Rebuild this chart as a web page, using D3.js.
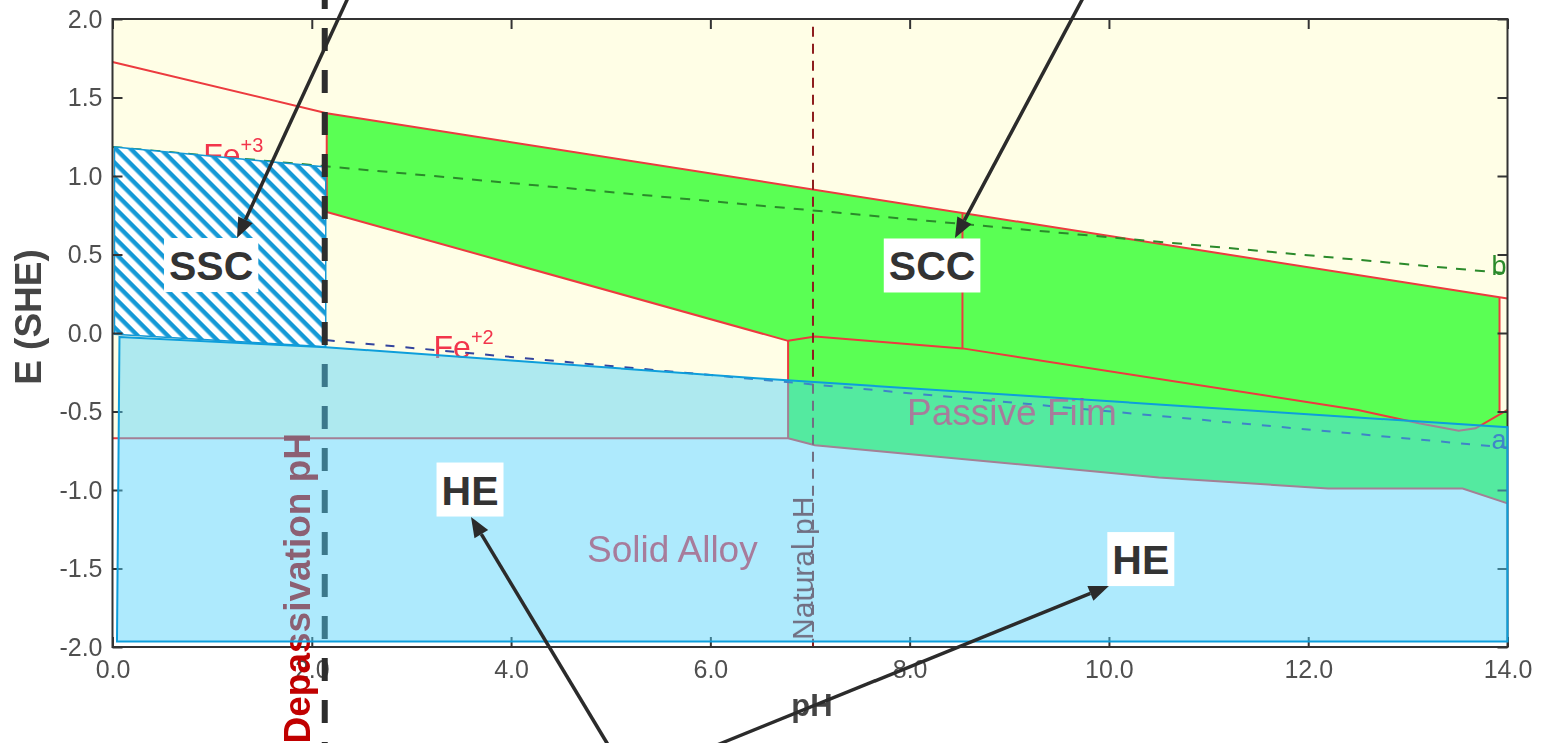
<!DOCTYPE html>
<html>
<head>
<meta charset="utf-8">
<script src="https://cdn.jsdelivr.net/npm/d3@7"></script>
<style>
  html, body { margin: 0; padding: 0; background: #ffffff; }
  svg { display: block; }
</style>
</head>
<body>
<svg id="chart" width="1541" height="743"></svg>
<script>
// ---- axis ticks ----
const phTicks = [0, 2, 4, 6, 8, 10, 12, 14];
const eTicks = [-2, -1.5, -1, -0.5, 0, 0.5, 1, 1.5, 2];

// ---- Pourbaix boundaries, [pH, E (V vs SHE)] ----
const upperBoundary = [[0, 1.726], [2.15, 1.40], [13.92, 0.228], [14, 0.22]];
const passiveLower = [[2.15, 0.771], [6.78, -0.05]];
const oxideBoundary = [[6.78, -0.05], [7.05, -0.023], [8.53, -0.098], [12.5, -0.49], [13.11, -0.575], [13.51, -0.622], [13.68, -0.607], [14, -0.49]];
const alloyBoundary = [[0, -0.67], [6.78, -0.67], [7.05, -0.715], [10.5, -0.92], [12.2, -0.99], [13.55, -0.99], [14, -1.085]];
const verticalBoundaries = [
  [[2.15, 0.771], [2.15, 1.40]],
  [[6.78, -0.67], [6.78, -0.05]],
  [[8.53, -0.098], [8.53, 0.76]],
  [[13.92, -0.51], [13.92, 0.228]]
];

// water stability lines
const waterLineB = [[0, 1.185], [14, 0.38]];
const waterLineA = [[2.14, -0.045], [14, -0.73]];

const naturalPH = 7.03;
const depassivationPH = 2.13;

// cracking zones
const sscZone = [[0.02, 1.185], [2.14, 1.057], [2.14, -0.087], [0.02, -0.008]];
const heZone = [[0.07, -0.025], [2.14, -0.09], [6.5, -0.29], [14, -0.60], [14, -1.965], [0.045, -1.965]];

// region labels
const regionLabels = [
  { text: "Solid Alloy", ph: 4.762, e: -1.459 },
  { text: "Passive Film", ph: 7.974, e: -0.586 }
];
const ionLabels = [
  { ion: "Fe", charge: "+3", ph: 0.911, e: 1.064 },
  { ion: "Fe", charge: "+2", ph: 3.222, e: -0.159 }
];
const lineLabels = [
  { text: "b", ph: 13.84, e: 0.369, color: "#2b8a2b" },
  { text: "a", ph: 13.84, e: -0.739, color: "#33449e" }
];

// mechanism call-outs: box centre and arrow [tail, head]
const callouts = [
  { text: "SSC", ph: 0.99, e: 0.433, arrow: [[2.423, 2.217], [1.25, 0.605]] },
  { text: "SCC", ph: 8.225, e: 0.43, arrow: [[9.81, 2.217], [8.455, 0.605]] },
  { text: "HE", ph: 3.588, e: -0.997, arrow: [[5.053, -2.707], [3.598, -1.172]] },
  { text: "HE", ph: 10.32, e: -1.44, arrow: [[5.745, -2.707], [10.0, -1.611]] }
];

// ---- drawing ----
const W = 1541, H = 743;
const svg = d3.select("#chart");
const x = d3.scaleLinear().domain([0, 14]).range([112.5, 1507.5]);
const y = d3.scaleLinear().domain([-2, 2]).range([647, 19]);
const line = d3.line().x(d => x(d[0])).y(d => y(d[1]));
const poly = pts => line(pts) + "Z";

const defs = svg.append("defs");
defs.append("clipPath").attr("id", "plotClip")
  .append("rect").attr("x", x(0)).attr("y", y(2))
  .attr("width", x(14) - x(0)).attr("height", y(-2) - y(2));
const hatch = defs.append("pattern").attr("id", "hatch")
  .attr("patternUnits", "userSpaceOnUse").attr("width", 10.6).attr("height", 10.6)
  .attr("patternTransform", "rotate(45)");
hatch.append("rect").attr("width", 10.6).attr("height", 10.6).attr("fill", "#ffffff");
hatch.append("rect").attr("width", 10.6).attr("height", 4.4).attr("fill", "#1499d6");
defs.append("filter").attr("id", "soft")
  .append("feGaussianBlur").attr("stdDeviation", 0.6);

const font = "'Liberation Sans', Arial, sans-serif";
const RED = "#ec3b3f";

// base diagram
const plot = svg.append("g").attr("clip-path", "url(#plotClip)");
plot.append("rect").attr("x", x(0)).attr("y", y(2))
  .attr("width", x(14) - x(0)).attr("height", y(-2) - y(2)).attr("fill", "#fffee6");

plot.append("path").attr("d", poly([...alloyBoundary, [14, -2], [0, -2]])).attr("fill", "#ffffff");

const passiveRegion = [
  upperBoundary[1], upperBoundary[2], [13.92, -0.51], [14, -0.49],
  ...alloyBoundary.filter(p => p[0] >= 6.78).reverse(),
  [6.78, -0.05], passiveLower[0]
];
plot.append("path").attr("d", poly(passiveRegion)).attr("fill", "#5aff54");

const redLines = [upperBoundary, passiveLower, oxideBoundary, alloyBoundary, ...verticalBoundaries];
plot.selectAll("path.bound").data(redLines).join("path").attr("class", "bound")
  .attr("d", line).attr("fill", "none").attr("stroke", RED).attr("stroke-width", 2);

plot.append("path").attr("d", line(waterLineB)).attr("fill", "none")
  .attr("stroke", "#2b8a2b").attr("stroke-width", 2).attr("stroke-dasharray", "10,9");
plot.append("path").attr("d", line(waterLineA)).attr("fill", "none")
  .attr("stroke", "#33449e").attr("stroke-width", 2).attr("stroke-dasharray", "9,11");
plot.append("path").attr("d", line([[naturalPH, 1.95], [naturalPH, -2]])).attr("fill", "none")
  .attr("stroke", "#8e1e1e").attr("stroke-width", 2).attr("stroke-dasharray", "10,7");

// labels of the base diagram
const labelG = plot.append("g").attr("font-family", font).attr("filter", "url(#soft)");
labelG.selectAll("text.region").data(regionLabels).join("text").attr("class", "region")
  .attr("x", d => x(d.ph)).attr("y", d => y(d.e))
  .attr("font-size", 37).attr("fill", "#f2344c").text(d => d.text);
ionLabels.forEach(d => {
  const t = labelG.append("text").attr("x", x(d.ph)).attr("y", y(d.e))
    .attr("font-size", 32).attr("fill", "#f2344c");
  t.append("tspan").text(d.ion);
  t.append("tspan").attr("font-size", 20).attr("dy", -14).text(d.charge);
});
labelG.selectAll("text.wl").data(lineLabels).join("text").attr("class", "wl")
  .attr("x", d => x(d.ph)).attr("y", d => y(d.e))
  .attr("font-size", 27).attr("fill", d => d.color).text(d => d.text);
labelG.append("text")
  .attr("transform", `translate(${x(naturalPH)},${y(-1.955)}) rotate(-90)`)
  .attr("font-size", 30).attr("fill", "#8e1e1e").text("Natural pH");

// sulfide stress cracking zone
plot.append("path").attr("d", poly(sscZone)).attr("fill", "url(#hatch)")
  .attr("stroke", "#1499d6").attr("stroke-width", 1.5);

// axes
const axG = svg.append("g").attr("font-family", font);
const fmt = v => d3.format(".1f")(v).replace("\u2212", "-");
axG.append("g").attr("transform", `translate(0,${y(-2)})`)
  .call(d3.axisBottom(x).tickValues(phTicks).tickSizeInner(-10).tickSizeOuter(0).tickPadding(13).tickFormat(fmt));
axG.append("g").attr("transform", `translate(${x(0)},0)`)
  .call(d3.axisLeft(y).tickValues(eTicks).tickSizeInner(-10).tickSizeOuter(0).tickPadding(10).tickFormat(fmt));
axG.append("g").attr("transform", `translate(0,${y(2)})`)
  .call(d3.axisTop(x).tickValues(phTicks).tickSizeInner(-10).tickSizeOuter(0).tickFormat(""));
axG.append("g").attr("transform", `translate(${x(14)},0)`)
  .call(d3.axisRight(y).tickValues(eTicks).tickSizeInner(-10).tickSizeOuter(0).tickFormat(""));
axG.selectAll(".domain").remove();
axG.selectAll(".tick line").attr("stroke", "#333").attr("stroke-width", 2);
axG.selectAll(".tick text").attr("font-size", 25).attr("fill", "#505050")
  .attr("font-family", font).attr("filter", "url(#soft)");
axG.append("rect").attr("x", x(0)).attr("y", y(2))
  .attr("width", x(14) - x(0)).attr("height", y(-2) - y(2))
  .attr("fill", "none").attr("stroke", "#333").attr("stroke-width", 2);
axG.append("text").attr("transform", `translate(41,317) rotate(-90)`)
  .attr("text-anchor", "middle").attr("font-size", 37).attr("font-weight", "bold")
  .attr("fill", "#454545").attr("filter", "url(#soft)").text("E (SHE)");
axG.append("text").attr("x", 812).attr("y", 716)
  .attr("text-anchor", "middle").attr("font-size", 31).attr("font-weight", "bold")
  .attr("fill", "#454545").attr("filter", "url(#soft)").text("pH");

// depassivation pH marker
svg.append("path").attr("d", line([[depassivationPH, y.invert(0)], [depassivationPH, y.invert(H)]]))
  .attr("stroke", "#2d2d2d").attr("stroke-width", 6)
  .attr("stroke-dasharray", "23,19").attr("stroke-dashoffset", 14);
svg.append("text")
  .attr("transform", `translate(310,433) rotate(-90)`)
  .attr("text-anchor", "end").attr("font-family", font).attr("font-weight", "bold")
  .attr("font-size", 37).attr("fill", "#c00000").text("Depassivation pH");

// hydrogen embrittlement zone (translucent overlay)
svg.append("path").attr("d", poly(heZone))
  .attr("fill", "rgb(78,209,250)").attr("fill-opacity", 0.46)
  .attr("stroke", "#0e9edb").attr("stroke-width", 2);

// call-outs
const co = svg.append("g").attr("font-family", font);
callouts.forEach(d => {
  const [t, h] = d.arrow;
  const x1 = x(t[0]), y1 = y(t[1]), x2 = x(h[0]), y2 = y(h[1]);
  const ang = Math.atan2(y2 - y1, x2 - x1);
  const L = 20, hw = 8;
  const bx = x2 - L * Math.cos(ang), by = y2 - L * Math.sin(ang);
  co.append("line").attr("x1", x1).attr("y1", y1).attr("x2", bx).attr("y2", by)
    .attr("stroke", "#2b2b2b").attr("stroke-width", 3.5);
  co.append("path")
    .attr("d", `M${x2},${y2}L${bx + hw * Math.sin(ang)},${by - hw * Math.cos(ang)}L${bx - hw * Math.sin(ang)},${by + hw * Math.cos(ang)}Z`)
    .attr("fill", "#2b2b2b");
});
callouts.forEach(d => {
  const g = co.append("g").attr("transform", `translate(${x(d.ph)},${y(d.e)})`);
  const txt = g.append("text").attr("text-anchor", "middle").attr("y", 15)
    .attr("font-size", 41).attr("font-weight", "bold").attr("fill", "#333").text(d.text);
  const w = txt.node().getComputedTextLength() + 10;
  g.insert("rect", "text").attr("x", -w / 2).attr("y", -27).attr("width", w).attr("height", 54)
    .attr("fill", "#ffffff");
});
</script>
</body>
</html>
